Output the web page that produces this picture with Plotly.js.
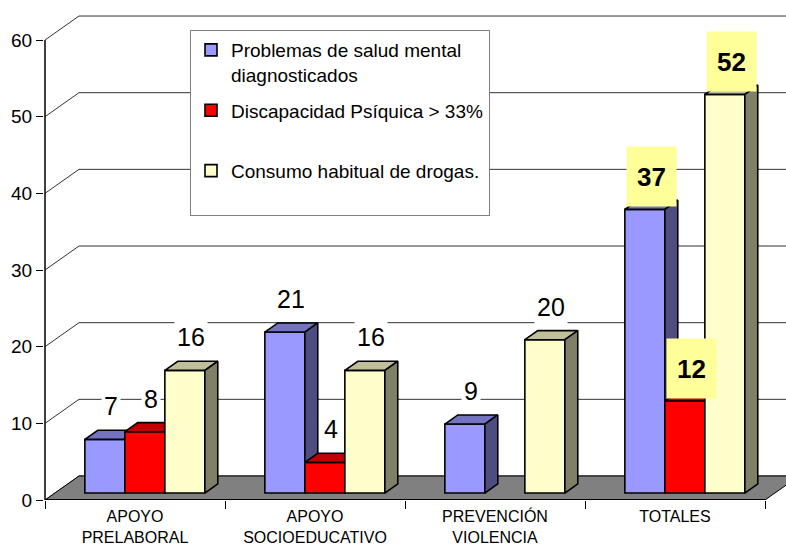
<!DOCTYPE html>
<html><head><meta charset="utf-8">
<script src="https://cdn.plot.ly/plotly-3.0.1.min.js"></script>
<style>html,body{margin:0;padding:0;background:#fff}#chart{width:786px;height:551px}</style>
</head><body><div id="chart"></div>
<script>
// ---- data ----
const categories = ['APOYO<br>PRELABORAL', 'APOYO<br>SOCIOEDUCATIVO', 'PREVENCIÓN<br>VIOLENCIA', 'TOTALES'];
const seriesNames = ['Problemas de salud mental<br>diagnosticados', 'Discapacidad Psíquica > 33%<br> ', 'Consumo habitual de drogas.<br> '];
const problemasSalud = [7, 21, 9, 37];
const discapacidad = [8, 4, null, 12];
const consumoDrogas = [16, 16, 20, 52];
const yTickVals = [0, 10, 20, 30, 40, 50, 60];

// ---- styles ----
const seriesValues = [problemasSalud, discapacidad, consumoDrogas];
const frontColors = ['#9999FF', '#FF0000', '#FFFFCC'];
const topColors = ['#7373BF', '#C00000', '#BFBF99'];
const sideColors = ['#4D4D80', '#800000', '#808066'];
const FONT = 'Arial, "Liberation Sans", sans-serif';

// pseudo-3D geometry (in axis units)
const DX = 34 / 180, DY = 3.13;      // wall depth
const F1 = 0.29, F2 = 0.67;          // bar front/back depth fraction
const BW = 2 / 9;                    // bar width
const XR = [-0.5 - 1 / 180, -0.5 + 741 / 180];
const YR = [0, 65.22];
const yMax = yTickVals[yTickVals.length - 1];

const traces = [];
// back wall gridlines
const gx = [], gy = [];
yTickVals.forEach(v => { gx.push(-0.5 + DX, XR[1] + 1, null); gy.push(v + DY, v + DY, null); });
traces.push({type: 'scatter', mode: 'lines', x: gx, y: gy, line: {color: '#333', width: 1}, showlegend: false, hoverinfo: 'skip'});
// left wall diagonals
const dx = [], dy = [];
yTickVals.forEach(v => { dx.push(-0.5, -0.5 + DX, null); dy.push(v, v + DY, null); });
traces.push({type: 'scatter', mode: 'lines', x: dx, y: dy, line: {color: '#333', width: 1}, showlegend: false, hoverinfo: 'skip'});
// floor
const nCat = categories.length;
traces.push({type: 'scatter', mode: 'lines', x: [-0.5, nCat - 0.5, nCat - 0.5 + DX, -0.5 + DX, -0.5], y: [0, 0, DY, DY, 0],
  fill: 'toself', fillcolor: '#808080', line: {color: '#000', width: 1}, showlegend: false, hoverinfo: 'skip'});
traces.push({type: 'scatter', mode: 'lines', x: [-0.5, nCat - 0.5], y: [0, 0], line: {color: '#000', width: 2}, showlegend: false, hoverinfo: 'skip'});
// front value axis line
traces.push({type: 'scatter', mode: 'lines', x: [-0.5, -0.5], y: [0, yMax], line: {color: '#000', width: 1.5}, showlegend: false, hoverinfo: 'skip'});

const annotations = [];
seriesValues.forEach((vals, j) => {
  const ax = 'x' + (j + 2), ay = 'y' + (j + 2);
  const centers = [], topX = [], topY = [], sideX = [], sideY = [];
  const b = F1 * DY, d = (F2 - F1) * DX, e = (F2 - F1) * DY;
  vals.forEach((v, i) => {
    const x0 = i + (j - 1.5) * BW + F1 * DX, x1 = x0 + BW;
    centers.push(x0 + BW / 2);
    if (v == null) return;
    const t = b + v;
    topX.push(x0, x1, x1 + d, x0 + d, x0, null); topY.push(t, t, t + e, t + e, t, null);
    sideX.push(x1, x1 + d, x1 + d, x1, x1, null); sideY.push(b, b + e, t + e, t, b, null);
    const isTotal = i === nCat - 1;
    annotations.push({
      text: String(v), x: x0 + BW / 2 + d / 2, y: t, xref: 'x', yref: 'y', yshift: 33,
      showarrow: false, xanchor: 'center', yanchor: 'middle',
      font: {family: FONT, size: isTotal ? 26 : 25, color: '#000', weight: isTotal ? 'bold' : 'normal'},
      bgcolor: isTotal ? '#FFFF99' : '#FFFFFF', borderpad: 2,
      width: isTotal ? 45 : null, height: isTotal ? 55 : 38
    });
  });
  traces.push({type: 'bar', name: seriesNames[j], legendgroup: 'g' + j, x: centers, y: vals, base: b, width: BW,
    xaxis: ax, yaxis: ay, marker: {color: frontColors[j], line: {color: '#000', width: 1.6}}, hoverinfo: 'skip'});
  traces.push({type: 'scatter', mode: 'lines', x: topX, y: topY, fill: 'toself', fillcolor: topColors[j],
    line: {color: '#000', width: 1.6}, xaxis: ax, yaxis: ay, showlegend: false, legendgroup: 'g' + j, hoverinfo: 'skip'});
  traces.push({type: 'scatter', mode: 'lines', x: sideX, y: sideY, fill: 'toself', fillcolor: sideColors[j],
    line: {color: '#000', width: 1.6}, xaxis: ax, yaxis: ay, showlegend: false, legendgroup: 'g' + j, hoverinfo: 'skip'});
});

const boundaries = [];
for (let k = 0; k <= nCat; k++) boundaries.push(k - 0.5);

const hidden = {range: XR, visible: false, fixedrange: true};
const layout = {
  width: 786, height: 551,
  margin: {l: 44, r: 0, t: 0, b: 51, pad: 0},
  paper_bgcolor: '#fff', plot_bgcolor: '#fff',
  font: {family: FONT, color: '#000'},
  showlegend: true,
  legend: {x: (190 - 44) / 742, y: 0.94, xanchor: 'left', yanchor: 'top', bgcolor: '#fff',
    bordercolor: '#808080', borderwidth: 1, font: {family: FONT, size: 19, color: '#000'},
    tracegroupgap: 8, valign: 'top', traceorder: 'grouped'},
  xaxis: {range: XR, tickvals: [0, 1, 2, 3], ticktext: categories, ticks: 'outside', ticklen: 2,
    tickcolor: 'rgba(0,0,0,0)', showgrid: false, zeroline: false, showline: false, fixedrange: true,
    tickfont: {family: FONT, size: 16, color: '#000'}},
  yaxis: {range: YR, tickvals: yTickVals, ticks: 'outside', ticklen: 7, tickcolor: '#000', tickwidth: 1,
    showgrid: false, zeroline: false, showline: false, fixedrange: true,
    tickfont: {family: FONT, size: 19, color: '#000'}},
  xaxis2: {range: XR, overlaying: 'x', anchor: 'y2', tickvals: boundaries, showticklabels: false,
    ticks: 'outside', ticklen: 8, tickcolor: '#000', tickwidth: 1, showgrid: false, zeroline: false, showline: false, fixedrange: true},
  yaxis2: {range: YR, overlaying: 'y', anchor: 'x2', visible: false, fixedrange: true},
  xaxis3: Object.assign({overlaying: 'x', anchor: 'y3'}, hidden),
  yaxis3: {range: YR, overlaying: 'y', anchor: 'x3', visible: false, fixedrange: true},
  xaxis4: Object.assign({overlaying: 'x', anchor: 'y4'}, hidden),
  yaxis4: {range: YR, overlaying: 'y', anchor: 'x4', visible: false, fixedrange: true},
  annotations: annotations
};

Plotly.newPlot('chart', traces, layout, {displayModeBar: false, staticPlot: true});
</script>
</body></html>
